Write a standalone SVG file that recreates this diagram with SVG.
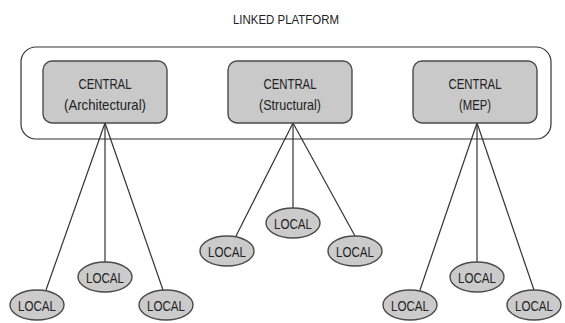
<svg xmlns="http://www.w3.org/2000/svg" width="565" height="323" viewBox="0 0 565 323">
  <style>
    text { font-family: "Liberation Sans Narrow", "Liberation Sans", Arial, sans-serif; fill: #222; text-anchor: middle; }
    .title { font-size: 13px; }
    .central { fill: #c9c9c9; stroke: #4a4a4a; stroke-width: 1.4; }
    .label { font-size: 14.5px; }
    .local { fill: #cbcbcb; stroke: #4a4a4a; stroke-width: 1.4; }
    .loc { font-size: 15px; }
    .link { stroke: #333; stroke-width: 1.2; fill: none; }
    .platform { fill: #fff; stroke: #333; stroke-width: 1.2; }
  </style>

  <g id="platform">
    <text class="title" x="286" y="24" textLength="106" lengthAdjust="spacingAndGlyphs">LINKED PLATFORM</text>
    <rect class="platform" x="21" y="47" width="530" height="92" rx="15" ry="15"/>
  </g>

  <g id="connectors">
    <!-- Architectural -->
    <line class="link" x1="105" y1="123" x2="46" y2="290"/>
    <line class="link" x1="105" y1="123" x2="105" y2="262"/>
    <line class="link" x1="105" y1="123" x2="163" y2="290"/>
    <!-- Structural -->
    <line class="link" x1="293" y1="123" x2="236" y2="236"/>
    <line class="link" x1="293" y1="123" x2="293" y2="208"/>
    <line class="link" x1="293" y1="123" x2="355" y2="236"/>
    <!-- MEP -->
    <line class="link" x1="477" y1="123" x2="420" y2="290"/>
    <line class="link" x1="477" y1="123" x2="477" y2="262"/>
    <line class="link" x1="477" y1="123" x2="534" y2="290"/>
  </g>

  <g id="central-architectural">
    <rect class="central" x="43" y="61" width="124" height="62" rx="9" ry="9"/>
    <text class="label" x="105" y="89" textLength="53" lengthAdjust="spacingAndGlyphs">CENTRAL</text>
    <text class="label" x="105" y="110" textLength="82" lengthAdjust="spacingAndGlyphs">(Architectural)</text>
  </g>
  <g id="central-structural">
    <rect class="central" x="228" y="61" width="124" height="62" rx="9" ry="9"/>
    <text class="label" x="290" y="89" textLength="53" lengthAdjust="spacingAndGlyphs">CENTRAL</text>
    <text class="label" x="290" y="110" textLength="62" lengthAdjust="spacingAndGlyphs">(Structural)</text>
  </g>
  <g id="central-mep">
    <rect class="central" x="413" y="61" width="124" height="62" rx="9" ry="9"/>
    <text class="label" x="475" y="89" textLength="53" lengthAdjust="spacingAndGlyphs">CENTRAL</text>
    <text class="label" x="475" y="110" textLength="32" lengthAdjust="spacingAndGlyphs">(MEP)</text>
  </g>

  <g id="local-a1"><ellipse class="local" cx="37" cy="305" rx="27" ry="15"/><text class="loc" x="37" y="310.5" textLength="38" lengthAdjust="spacingAndGlyphs">LOCAL</text></g>
  <g id="local-a2"><ellipse class="local" cx="105" cy="277" rx="27" ry="15"/><text class="loc" x="105" y="282.5" textLength="38" lengthAdjust="spacingAndGlyphs">LOCAL</text></g>
  <g id="local-a3"><ellipse class="local" cx="166" cy="305" rx="27" ry="15"/><text class="loc" x="166" y="310.5" textLength="38" lengthAdjust="spacingAndGlyphs">LOCAL</text></g>

  <g id="local-s1"><ellipse class="local" cx="227" cy="251" rx="27" ry="15"/><text class="loc" x="227" y="256.5" textLength="38" lengthAdjust="spacingAndGlyphs">LOCAL</text></g>
  <g id="local-s2"><ellipse class="local" cx="293" cy="223" rx="27" ry="15"/><text class="loc" x="293" y="228.5" textLength="38" lengthAdjust="spacingAndGlyphs">LOCAL</text></g>
  <g id="local-s3"><ellipse class="local" cx="355" cy="251" rx="27" ry="15"/><text class="loc" x="355" y="256.5" textLength="38" lengthAdjust="spacingAndGlyphs">LOCAL</text></g>

  <g id="local-m1"><ellipse class="local" cx="410" cy="305" rx="27" ry="15"/><text class="loc" x="410" y="310.5" textLength="38" lengthAdjust="spacingAndGlyphs">LOCAL</text></g>
  <g id="local-m2"><ellipse class="local" cx="477" cy="277" rx="27" ry="15"/><text class="loc" x="477" y="282.5" textLength="38" lengthAdjust="spacingAndGlyphs">LOCAL</text></g>
  <g id="local-m3"><ellipse class="local" cx="534" cy="305" rx="27" ry="15"/><text class="loc" x="534" y="310.5" textLength="38" lengthAdjust="spacingAndGlyphs">LOCAL</text></g>
</svg>
